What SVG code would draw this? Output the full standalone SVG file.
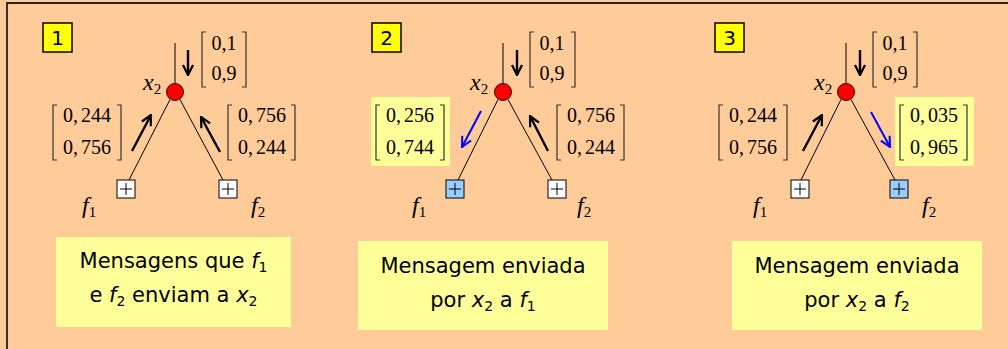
<svg xmlns="http://www.w3.org/2000/svg" width="1008" height="349" viewBox="0 0 1008 349">
<style>
.bg{fill:#FFCC99}
.lbl{fill:#FFFF00;stroke:#000;stroke-width:1.5}
.lbt{font-family:"DejaVu Sans",sans-serif;font-size:20px;fill:#000;text-anchor:middle}
.var{fill:#FF0000;stroke:#400000;stroke-width:1}
.fac{fill:#FFFFFF;stroke:#000;stroke-width:1}
.facb{fill:#99CCFF;stroke:#000;stroke-width:1}
.plus{stroke:#000;stroke-width:1;fill:none}
.edge{stroke:#000;stroke-width:1;fill:none}
.arr{stroke:#000;stroke-width:2.4;fill:none;marker-end:url(#ah)}
.arrb{stroke:#0000FF;stroke-width:2;fill:none;marker-end:url(#ahb)}
.brk{stroke:#333;stroke-width:1.2;fill:none}
.num{font-family:"Liberation Serif",serif;font-size:20px;fill:#000;text-anchor:middle}
.mi{font-family:"Liberation Serif",serif;font-size:24px;font-style:italic;fill:#000}
.sub{font-size:15px;font-style:normal}
.hl{fill:#FFFF99}
.cap{fill:#FFFF99}
.ct{font-family:"DejaVu Sans",sans-serif;font-size:21px;fill:#000;text-anchor:middle}
.ci{font-style:italic}
.cs{font-size:14px}
</style>
<defs>
<marker id="ah" viewBox="0 0 12 12" refX="11" refY="6" markerWidth="12" markerHeight="12" markerUnits="userSpaceOnUse" orient="auto">
<path d="M1,1 L11,6 L1,11" fill="none" stroke="#000" stroke-width="2.2"/>
</marker>
<marker id="ahb" viewBox="0 0 12 12" refX="11" refY="6" markerWidth="12" markerHeight="12" markerUnits="userSpaceOnUse" orient="auto">
<path d="M1,1 L11,6 L1,11" fill="none" stroke="#0000FF" stroke-width="2"/>
</marker>
</defs>
<rect class="bg" x="0" y="0" width="1008" height="349"/>
<path d="M7,349 V3 H1008" fill="none" stroke="#222" stroke-width="1.8"/>

<!-- Panel 1 -->
<g id="step1-label"><rect class="lbl" x="43" y="23" width="29" height="29"/><text class="lbt" x="57.5" y="45">1</text></g>
<g id="p1-msg-top">
<path class="brk" d="M206,32 H202 V87 H206 M242,32 H246 V87 H242"/>
<text class="num" x="224" y="50">0,1</text><text class="num" x="224" y="80">0,9</text>
</g>
<g id="p1-msg-f1">
<path class="brk" d="M57,105 H53 V160 H57 M117,105 H121 V160 H117"/>
<text class="num" x="87" y="122">0,<tspan dx="3">244</tspan></text><text class="num" x="87" y="154">0,<tspan dx="3">756</tspan></text>
</g>
<g id="p1-msg-f2">
<path class="brk" d="M232,105 H228 V160 H232 M291,105 H295 V160 H291"/>
<text class="num" x="262" y="122">0,<tspan dx="3">756</tspan></text><text class="num" x="262" y="154">0,<tspan dx="3">244</tspan></text>
</g>
<g id="p1-x2"><circle class="var" cx="175" cy="92" r="8.5"/><text class="mi" x="143" y="90">x<tspan class="sub" dy="4">2</tspan></text></g>
<g id="p1-f1"><rect class="fac" x="117" y="180" width="18" height="18"/><path class="plus" d="M120,189 H132 M126,183 V195"/><text class="mi" x="82" y="213">f<tspan class="sub" dy="4">1</tspan></text></g>
<g id="p1-f2"><rect class="fac" x="219" y="180" width="18" height="18"/><path class="plus" d="M222,189 H234 M228,183 V195"/><text class="mi" x="251" y="213">f<tspan class="sub" dy="4">2</tspan></text></g>
<g id="caption1"><rect class="cap" x="56" y="237" width="235" height="90"/>
<text class="ct" x="173.5" y="268">Mensagens que <tspan class="ci">f</tspan><tspan class="cs" dy="4">1</tspan></text>
<text class="ct" x="173.5" y="302">e <tspan class="ci">f</tspan><tspan class="cs" dy="4">2</tspan><tspan dy="-4"> enviam a </tspan><tspan class="ci">x</tspan><tspan class="cs" dy="4">2</tspan></text>
</g>

<!-- Panel 2 -->
<g id="step2-label"><rect class="lbl" x="372" y="23" width="29" height="29"/><text class="lbt" x="386.5" y="45">2</text></g>
<g id="p2-msg-top">
<path class="brk" d="M534,32 H530 V87 H534 M571,32 H575 V87 H571"/>
<text class="num" x="552" y="50">0,1</text><text class="num" x="552" y="80">0,9</text>
</g>
<g id="p2-msg-f1"><rect class="hl" x="371" y="97" width="79" height="69"/>
<path class="brk" d="M380,105 H376 V160 H380 M440,105 H444 V160 H440"/>
<text class="num" x="410" y="122">0,<tspan dx="3">256</tspan></text><text class="num" x="410" y="154">0,<tspan dx="3">744</tspan></text>
</g>
<g id="p2-msg-f2">
<path class="brk" d="M561,105 H557 V160 H561 M620,105 H624 V160 H620"/>
<text class="num" x="591" y="122">0,<tspan dx="3">756</tspan></text><text class="num" x="591" y="154">0,<tspan dx="3">244</tspan></text>
</g>
<g id="p2-x2"><circle class="var" cx="503" cy="92" r="8.5"/><text class="mi" x="470" y="90">x<tspan class="sub" dy="4">2</tspan></text></g>
<g id="p2-f1"><rect class="facb" x="446" y="180" width="18" height="18"/><path class="plus" d="M449,189 H461 M455,183 V195"/><text class="mi" x="412" y="213">f<tspan class="sub" dy="4">1</tspan></text></g>
<g id="p2-f2"><rect class="fac" x="548" y="180" width="18" height="18"/><path class="plus" d="M551,189 H563 M557,183 V195"/><text class="mi" x="577" y="213">f<tspan class="sub" dy="4">2</tspan></text></g>
<g id="caption2"><rect class="cap" x="358" y="241" width="250" height="89"/>
<text class="ct" x="483" y="273">Mensagem enviada</text>
<text class="ct" x="483" y="307">por <tspan class="ci">x</tspan><tspan class="cs" dy="4">2</tspan><tspan dy="-4"> a </tspan><tspan class="ci">f</tspan><tspan class="cs" dy="4">1</tspan></text>
</g>

<!-- Panel 3 -->
<g id="step3-label"><rect class="lbl" x="715" y="23" width="29" height="29"/><text class="lbt" x="729.5" y="45">3</text></g>
<g id="p3-msg-top">
<path class="brk" d="M877,32 H873 V87 H877 M913,32 H917 V87 H913"/>
<text class="num" x="895" y="50">0,1</text><text class="num" x="895" y="80">0,9</text>
</g>
<g id="p3-msg-f1">
<path class="brk" d="M723,105 H719 V160 H723 M783,105 H787 V160 H783"/>
<text class="num" x="753" y="122">0,<tspan dx="3">244</tspan></text><text class="num" x="753" y="154">0,<tspan dx="3">756</tspan></text>
</g>
<g id="p3-msg-f2"><rect class="hl" x="895" y="97" width="79" height="69"/>
<path class="brk" d="M904,105 H900 V160 H904 M963,105 H967 V160 H963"/>
<text class="num" x="934" y="122">0,<tspan dx="3">035</tspan></text><text class="num" x="934" y="154">0,<tspan dx="3">965</tspan></text>
</g>
<g id="p3-x2"><circle class="var" cx="846" cy="92" r="8.5"/><text class="mi" x="814" y="90">x<tspan class="sub" dy="4">2</tspan></text></g>
<g id="p3-f1"><rect class="fac" x="791" y="180" width="18" height="18"/><path class="plus" d="M794,189 H806 M800,183 V195"/><text class="mi" x="753" y="213">f<tspan class="sub" dy="4">1</tspan></text></g>
<g id="p3-f2"><rect class="facb" x="890" y="180" width="18" height="18"/><path class="plus" d="M893,189 H905 M899,183 V195"/><text class="mi" x="922" y="213">f<tspan class="sub" dy="4">2</tspan></text></g>
<g id="caption3"><rect class="cap" x="732" y="241" width="250" height="89"/>
<text class="ct" x="857" y="273">Mensagem enviada</text>
<text class="ct" x="857" y="307">por <tspan class="ci">x</tspan><tspan class="cs" dy="4">2</tspan><tspan dy="-4"> a </tspan><tspan class="ci">f</tspan><tspan class="cs" dy="4">2</tspan></text>
</g>

<g id="connectors">
<path class="edge" d="M175,43 V83.5"/>
<path class="edge" d="M170,99.5 L129,180"/>
<path class="edge" d="M180,99.5 L223,180"/>
<path class="arr" d="M188,50 V75"/>
<path class="arr" d="M132,151 L151,115"/>
<path class="arr" d="M220,152 L201,117"/>

<path class="edge" d="M503,43 V83.5"/>
<path class="edge" d="M498,99.5 L458,180"/>
<path class="edge" d="M508,99.5 L552,180"/>
<path class="arr" d="M517,50 V75"/>
<path class="arrb" d="M481,111 L462,147"/>
<path class="arr" d="M548,151 L530,116"/>

<path class="edge" d="M846,43 V83.5"/>
<path class="edge" d="M841,99.5 L801,180"/>
<path class="edge" d="M851,99.5 L895,180"/>
<path class="arr" d="M860,50 V75"/>
<path class="arr" d="M803,151 L822,115"/>
<path class="arrb" d="M871,112 L890,147"/>
</g>
</svg>
